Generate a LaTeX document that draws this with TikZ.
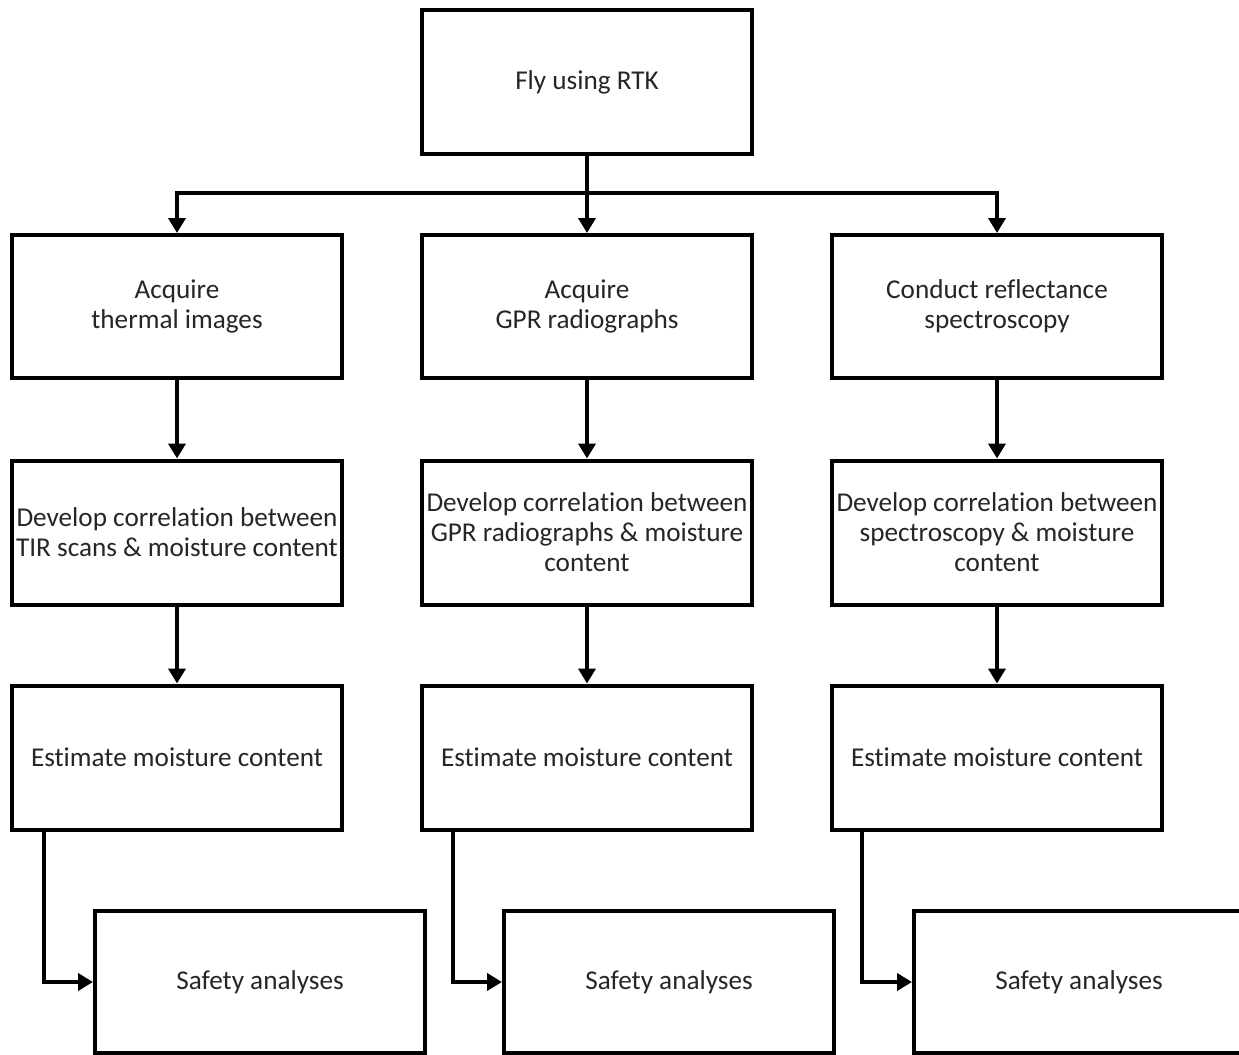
\documentclass[tikz,border=0pt]{standalone}
\usepackage{fontspec}
\setmainfont[Ligatures=NoCommon]{Carlito}
\usetikzlibrary{arrows.meta}
\begin{document}
\begin{tikzpicture}[x=0.5pt,y=-0.5pt,
  box/.style={draw=black,line width=2pt,minimum width=165pt,minimum height=72pt,
    inner sep=0pt,align=center,font=\fontsize{13.6}{15}\selectfont,text=black!85},
  arr/.style={line width=2pt,-{Triangle[width=8.5pt,length=7.5pt]}}]
\clip (0,0) rectangle (1239,1055);
\fill[white] (0,0) rectangle (1239,1055);
\node[box] (top) at (587,82) {Fly using RTK};
\node[box,minimum height=71.5pt] (a1) at (177,306.5) {Acquire\\thermal images};
\node[box,minimum height=71.5pt] (b1) at (587,306.5) {Acquire\\GPR radiographs};
\node[box,minimum height=71.5pt] (c1) at (997,306.5) {Conduct reflectance\\spectroscopy};
\node[box] (a2) at (177,532.5) {Develop correlation between\\TIR scans \& moisture content};
\node[box] (b2) at (587,532.5) {Develop correlation between\\GPR radiographs \& moisture\\content};
\node[box] (c2) at (997,532.5) {Develop correlation between\\spectroscopy \& moisture\\content};
\node[box] (a3) at (177,757.5) {Estimate moisture content};
\node[box] (b3) at (587,757.5) {Estimate moisture content};
\node[box] (c3) at (997,757.5) {Estimate moisture content};
\node[box,minimum height=71pt] (s1) at (260,982) {Safety analyses};
\node[box,minimum height=71pt] (s2) at (669,982) {Safety analyses};
\node[box,minimum height=71pt] (s3) at (1079,982) {Safety analyses};
\coordinate (bus) at (587,193);
\draw[arr] (top) -- (b1);
\draw[arr] (bus) -| (a1);
\draw[arr] (bus) -| (c1);
\draw[arr] (a1) -- (a2);
\draw[arr] (b1) -- (b2);
\draw[arr] (c1) -- (c2);
\draw[arr] (a2) -- (a3);
\draw[arr] (b2) -- (b3);
\draw[arr] (c2) -- (c3);
\draw[arr] ([xshift=17pt]a3.south west) |- (s1.west);
\draw[arr] ([xshift=16.5pt]b3.south west) |- (s2.west);
\draw[arr] ([xshift=16pt]c3.south west) |- (s3.west);
\end{tikzpicture}
\end{document}
